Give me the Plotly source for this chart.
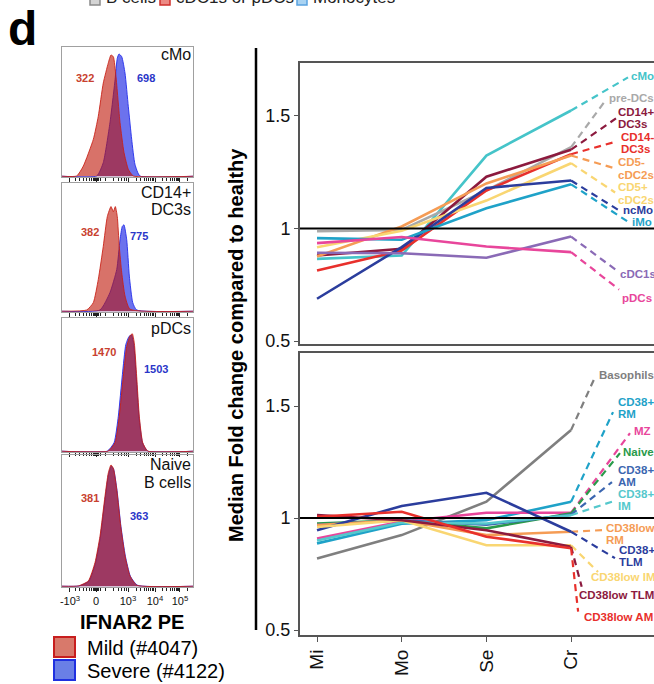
import plotly.graph_objects as go

W, H = 654, 684
FONT = "Liberation Sans, Arial, sans-serif"

# ---------------- data: fold change panels ----------------
categories = ["Mi", "Mo", "Se", "Cr"]
cat_pos = [1, 2, 3, 4]

# top panel (myeloid)
my_names = ["cMo", "pre-DCs", "CD14+<br>DC3s", "CD14-<br>DC3s", "CD5-<br>cDC2s",
            "CD5+<br>cDC2s", "ncMo", "iMo", "cDC1s", "pDCs"]
my_colors = ["#45c4c9", "#a9a9a9", "#8c1a3e", "#e8302c", "#f59c55",
             "#f9d672", "#2b3d9d", "#1fa2c8", "#8a6ab6", "#e8469b"]
cMo_v = [0.865, 0.880, 1.324, 1.524]
preDC_v = [0.988, 0.994, 1.169, 1.361]
cd14p_v = [0.880, 0.910, 1.230, 1.350]
cd14m_v = [0.813, 0.902, 1.169, 1.330]
cd5m_v = [0.876, 1.009, 1.200, 1.324]
cd5p_v = [0.917, 0.990, 1.124, 1.290]
ncMo_v = [0.688, 0.917, 1.180, 1.213]
iMo_v = [0.957, 0.950, 1.090, 1.196]
cDC1_v = [0.892, 0.890, 0.870, 0.964]
pDC_v = [0.935, 0.962, 0.920, 0.895]
my_values = [cMo_v, preDC_v, cd14p_v, cd14m_v, cd5m_v, cd5p_v, ncMo_v, iMo_v, cDC1_v, pDC_v]
my_end_x = [4.672, 4.42, 4.53, 4.54, 4.52, 4.52, 4.58, 4.684, 4.54, 4.566]
my_end_y = [1.671, 1.576, 1.489, 1.387, 1.267, 1.160, 1.077, 1.027, 0.813, 0.729]
my_lab_x = [4.695, 4.44, 4.542, 4.577, 4.542, 4.542, 4.60, 4.707, 4.565, 4.59]
my_lab_y = [1.676, 1.578, 1.491, 1.380, 1.267, 1.156, 1.080, 1.029, 0.800, 0.693]

# bottom panel (B cells + basophils)
b_names = ["Basophils", "CD38+<br>RM", "MZ", "Naive", "CD38+<br>AM", "CD38+<br>IM",
           "CD38low<br>RM", "CD38+<br>TLM", "CD38low IM", "CD38low TLM", "CD38low AM"]
b_colors = ["#7f7f7f", "#1fa2c8", "#e8469b", "#2a9a4a", "#3b66b0", "#55c8cc",
            "#f59c55", "#2b3d9d", "#f9d672", "#8c1a3e", "#e8302c"]
baso_v = [0.820, 0.924, 1.073, 1.393]
rm38p_v = [0.887, 0.975, 0.991, 1.073]
mz_v = [0.909, 0.984, 1.024, 1.024]
naive_v = [0.976, 0.990, 0.954, 1.021]
am38p_v = [0.970, 0.990, 0.970, 1.015]
im38p_v = [0.900, 0.980, 0.976, 1.013]
rm38l_v = [0.969, 0.990, 0.924, 0.939]
tlm38p_v = [0.946, 1.054, 1.113, 0.939]
im38l_v = [0.960, 0.990, 0.879, 0.879]
tlm38l_v = [1.013, 0.990, 0.946, 0.872]
am38l_v = [1.006, 1.028, 0.917, 0.865]
b_values = [baso_v, rm38p_v, mz_v, naive_v, am38p_v, im38p_v,
            rm38l_v, tlm38p_v, im38l_v, tlm38l_v, am38l_v]
b_end_x = [4.282, 4.495, 4.695, 4.577, 4.483, 4.506, 4.365, 4.518, 4.318, 4.125, 4.083]
b_end_y = [1.629, 1.473, 1.379, 1.290, 1.161, 1.076, 0.946, 0.821, 0.759, 0.693, 0.582]
b_lab_x = [4.318, 4.542, 4.731, 4.60, 4.542, 4.542, 4.40, 4.554, 4.223, 4.08, 4.14]
b_lab_y = [1.638, 1.491, 1.388, 1.295, 1.1875, 1.080, 0.929, 0.830, 0.737, 0.656, 0.558]

y_ticks = [0.5, 1, 1.5]
y_tick_text = ["0.5", "1", "1.5"]

# ---------------- data: histograms (display units, relative height) ----------------
hist_titles = ["cMo", "CD14+<br>DC3s", "pDCs", "Naive<br>B cells"]
mild_mfi = ["322", "382", "1470", "381"]
severe_mfi = ["698", "775", "1503", "363"]

h1_mild_x = [0.0, 0.112, 0.163, 0.239, 0.277, 0.315, 0.353, 0.374, 0.392, 0.412, 0.443, 0.473, 0.506, 0.544, 1.0]
h1_mild_y = [0.0, 0.002, 0.079, 0.285, 0.464, 0.721, 0.875, 0.938, 0.925, 0.772, 0.415, 0.185, 0.054, 0.002, 0.0]
h1_sev_x = [0.0, 0.265, 0.315, 0.366, 0.405, 0.422, 0.435, 0.456, 0.481, 0.506, 0.532, 0.557, 0.595, 1.0]
h1_sev_y = [0.0, 0.002, 0.105, 0.413, 0.746, 0.913, 0.946, 0.925, 0.798, 0.541, 0.285, 0.092, 0.002, 0.0]

h2_mild_x = [0.0, 0.189, 0.239, 0.277, 0.315, 0.346, 0.374, 0.392, 0.407, 0.422, 0.437, 0.456, 0.481, 0.519, 1.0]
h2_mild_y = [0.0, 0.010, 0.067, 0.248, 0.506, 0.739, 0.816, 0.777, 0.816, 0.739, 0.506, 0.300, 0.119, 0.016, 0.0]
h2_sev_x = [0.0, 0.290, 0.366, 0.418, 0.443, 0.460, 0.473, 0.494, 0.514, 0.540, 0.570, 1.0]
h2_sev_y = [0.0, 0.010, 0.145, 0.326, 0.558, 0.661, 0.674, 0.558, 0.274, 0.067, 0.010, 0.0]

h3_mild_x = [0.0, 0.351, 0.405, 0.437, 0.468, 0.494, 0.519, 0.537, 0.552, 0.570, 0.590, 0.616, 0.656, 1.0]
h3_mild_y = [0.0, 0.0, 0.065, 0.263, 0.562, 0.786, 0.866, 0.881, 0.811, 0.562, 0.263, 0.065, 0.0, 0.0]
h3_sev_x = [0.0, 0.345, 0.398, 0.430, 0.461, 0.487, 0.512, 0.531, 0.548, 0.567, 0.588, 0.615, 0.655, 1.0]
h3_sev_y = [0.0, 0.0, 0.065, 0.263, 0.575, 0.800, 0.862, 0.872, 0.800, 0.550, 0.255, 0.062, 0.0, 0.0]

h4_mild_x = [0.0, 0.124, 0.201, 0.252, 0.290, 0.328, 0.353, 0.374, 0.392, 0.418, 0.448, 0.481, 0.519, 0.570, 1.0]
h4_mild_y = [0.0, 0.002, 0.040, 0.180, 0.381, 0.684, 0.861, 0.924, 0.899, 0.735, 0.457, 0.230, 0.078, 0.008, 0.0]
h4_sev_x = [0.0, 0.130, 0.205, 0.255, 0.293, 0.330, 0.355, 0.376, 0.394, 0.420, 0.450, 0.484, 0.522, 0.575, 1.0]
h4_sev_y = [0.0, 0.002, 0.038, 0.175, 0.375, 0.675, 0.852, 0.915, 0.892, 0.730, 0.455, 0.228, 0.076, 0.008, 0.0]

hist_mild = [(h1_mild_x, h1_mild_y), (h2_mild_x, h2_mild_y), (h3_mild_x, h3_mild_y), (h4_mild_x, h4_mild_y)]
hist_sev = [(h1_sev_x, h1_sev_y), (h2_sev_x, h2_sev_y), (h3_sev_x, h3_sev_y), (h4_sev_x, h4_sev_y)]

hist_tick_pos = [0.061, 0.26, 0.504, 0.71, 0.90]
hist_tick_text = ["-10<sup>3</sup>", "0", "10<sup>3</sup>", "10<sup>4</sup>", "10<sup>5</sup>"]
hist_minor_pos = [0.10, 0.135, 0.165, 0.19, 0.21, 0.228, 0.24, 0.25, 0.255, 0.265, 0.27, 0.28, 0.292,
                  0.33, 0.39, 0.43, 0.455, 0.475, 0.49,
                  0.566, 0.602, 0.628, 0.648, 0.664, 0.678, 0.690, 0.700,
                  0.767, 0.801, 0.825, 0.843, 0.858, 0.871, 0.882, 0.891, 0.96]

# ---------------- layout geometry (pixels) ----------------
def px_x(p):
    return p / W

def px_y(p):
    return 1 - p / H

hist_x_dom = [px_x(62), px_x(193)]
hist_y_px = [(47, 177), (183, 312), (318, 452), (455, 587)]
right_x_dom = [px_x(300), 1.0]
top_y_dom = [px_y(344), px_y(63)]
bot_y_dom = [px_y(635), px_y(353)]

fig = go.Figure()
layout_axes = {}

MILD_FILL = "rgba(190,20,5,0.60)"
MILD_LINE = "rgba(200,30,20,0.85)"
SEV_FILL = "rgba(10,20,225,0.60)"
SEV_LINE = "rgba(35,45,235,0.9)"

for i in range(4):
    n = i + 1
    sfx = "" if n == 1 else str(n)
    sx, sy = hist_sev[i]
    mx, my = hist_mild[i]
    fig.add_trace(go.Scatter(x=sx, y=sy, xaxis="x" + sfx, yaxis="y" + sfx, mode="lines",
                             line=dict(color=SEV_LINE, width=1, shape="spline", smoothing=0.5),
                             fill="tozeroy", fillcolor=SEV_FILL, hoverinfo="skip", showlegend=False))
    fig.add_trace(go.Scatter(x=mx, y=my, xaxis="x" + sfx, yaxis="y" + sfx, mode="lines",
                             line=dict(color=MILD_LINE, width=1, shape="spline", smoothing=0.5),
                             fill="tozeroy", fillcolor=MILD_FILL, hoverinfo="skip", showlegend=False))
    top, bot = hist_y_px[i]
    layout_axes["xaxis" + sfx] = dict(
        domain=hist_x_dom, range=[0, 1], anchor="y" + sfx, showline=True, mirror=True,
        linecolor="#a0a0a0", linewidth=1, showgrid=False, zeroline=False,
        tickvals=hist_tick_pos, ticktext=hist_tick_text, ticks="outside", ticklen=4,
        tickcolor="#222", tickwidth=1, showticklabels=(n == 4),
        tickfont=dict(family=FONT, size=11, color="#111"),
        minor=dict(tickvals=hist_minor_pos, ticks="outside", ticklen=2.5, tickcolor="#222", tickwidth=1),
        fixedrange=True)
    layout_axes["yaxis" + sfx] = dict(
        domain=[px_y(bot), px_y(top)], range=[-0.006, 1.0], anchor="x" + sfx, showline=True,
        mirror=True, linecolor="#a0a0a0", linewidth=1, showgrid=False, zeroline=False,
        showticklabels=False, ticks="", fixedrange=True)

# right panels
def add_panel(values, colors, end_x, end_y, xa, ya):
    for vals, col in zip(values, colors):
        fig.add_trace(go.Scatter(x=cat_pos, y=vals, xaxis=xa, yaxis=ya, mode="lines",
                                 line=dict(color=col, width=2.6), hoverinfo="skip", showlegend=False))
    for vals, col, ex, ey in zip(values, colors, end_x, end_y):
        fig.add_trace(go.Scatter(x=[cat_pos[-1], ex], y=[vals[-1], ey], xaxis=xa, yaxis=ya, mode="lines",
                                 line=dict(color=col, width=2.2, dash="7px,5px"),
                                 hoverinfo="skip", showlegend=False))

add_panel(my_values, my_colors, my_end_x, my_end_y, "x5", "y5")
add_panel(b_values, b_colors, b_end_x, b_end_y, "x6", "y6")

x_range = [0.799, 4.979]
FRAME = "#555555"
layout_axes["xaxis5"] = dict(domain=right_x_dom, range=x_range, anchor="y5", showline=True, mirror=True,
                             linecolor=FRAME, linewidth=2, showgrid=False, zeroline=False,
                             showticklabels=False, ticks="", fixedrange=True)
layout_axes["yaxis5"] = dict(domain=top_y_dom, range=[0.487, 1.735], anchor="x5", showline=True,
                             linecolor=FRAME, linewidth=2, showgrid=False, zeroline=False,
                             tickvals=y_ticks, ticktext=y_tick_text, ticks="outside", ticklen=4,
                             tickcolor=FRAME, tickfont=dict(family=FONT, size=18, color="#111"),
                             fixedrange=True)
layout_axes["xaxis6"] = dict(domain=right_x_dom, range=x_range, anchor="y6", showline=True, mirror=True,
                             linecolor=FRAME, linewidth=2, showgrid=False, zeroline=False,
                             tickvals=cat_pos, ticktext=categories, ticks="outside", ticklen=5,
                             tickcolor=FRAME, tickangle=-90,
                             tickfont=dict(family=FONT, size=19, color="#111"), fixedrange=True)
layout_axes["yaxis6"] = dict(domain=bot_y_dom, range=[0.478, 1.737], anchor="x6", showline=True,
                             linecolor=FRAME, linewidth=2, showgrid=False, zeroline=False,
                             tickvals=y_ticks, ticktext=y_tick_text, ticks="outside", ticklen=4,
                             tickcolor=FRAME, tickfont=dict(family=FONT, size=18, color="#111"),
                             fixedrange=True)

shapes = []
for xa, ya in (("x5", "y5"), ("x6", "y6")):
    shapes.append(dict(type="line", xref=xa + " domain", yref=ya, x0=0, x1=1, y0=1, y1=1,
                       line=dict(color="black", width=2), layer="above"))
shapes.append(dict(type="line", xref="paper", yref="paper", x0=px_x(256), x1=px_x(256),
                   y0=px_y(48), y1=px_y(630), line=dict(color="black", width=2.5)))

annotations = []


def note(x, y, text, size, color, xanchor="center", yanchor="middle", **kw):
    annotations.append(dict(xref="paper", yref="paper", x=px_x(x), y=px_y(y), text=text,
                            showarrow=False, xanchor=xanchor, yanchor=yanchor,
                            font=dict(family=FONT, size=size, color=color), **kw))


# right-panel labels: each line placed separately for tight line spacing
LINE_SP = 12.5
for names, colors, lx, ly, xa, ya in ((my_names, my_colors, my_lab_x, my_lab_y, "x5", "y5"),
                                      (b_names, b_colors, b_lab_x, b_lab_y, "x6", "y6")):
    for nm, col, x, y in zip(names, colors, lx, ly):
        parts = nm.split("<br>")
        for k, part in enumerate(parts):
            off = ((len(parts) - 1) / 2 - k) * LINE_SP
            annotations.append(dict(xref=xa, yref=ya, x=x, y=y, yshift=off, text="<b>" + part + "</b>",
                                    showarrow=False, xanchor="left", yanchor="middle", align="left",
                                    borderpad=0, font=dict(family=FONT, size=11.5, color=col)))

# y-axis title
note(236, 345, "<b>Median Fold change compared to healthy</b>", 20, "black", textangle=-90)

# histogram panel titles and MFIs
title_y = [55, 201, 328, 473.5]
mild_pos = [(85, 78), (90, 232), (103.5, 352), (90, 498)]
sev_pos = [(146, 78), (139, 236), (156, 369), (139, 516)]
for i in range(4):
    parts = hist_titles[i].split("<br>")
    for k, part in enumerate(parts):
        off = ((len(parts) - 1) / 2 - k) * 17.5
        note(192, title_y[i] - off, part, 16, "#111", xanchor="right", borderpad=0)
    note(mild_pos[i][0], mild_pos[i][1], "<b>" + mild_mfi[i] + "</b>", 11, "#c8412f")
    note(sev_pos[i][0], sev_pos[i][1], "<b>" + severe_mfi[i] + "</b>", 11, "#2a36c8")

# x title of histograms
note(132, 622, "<b>IFNAR2 PE</b>", 20, "black")

# bottom legend
legend_items = [("Mild (#4047)", "#d8796b", "#c81e1e", 637), ("Severe (#4122)", "#6a7fe6", "#1f30e0", 660)]
for txt, fill, edge, top in legend_items:
    shapes.append(dict(type="rect", xref="paper", yref="paper", x0=px_x(54), x1=px_x(75),
                       y0=px_y(top + 20), y1=px_y(top), fillcolor=fill, line=dict(color=edge, width=2)))
    note(85, top + 10.5, txt, 20, "black", xanchor="left")

# panel letter
note(6, 29, "<b>d</b>", 48, "black", xanchor="left")

# cropped top legend
top_legend = [("B cells", "#d4d4d4", "#8a8a8a", 90), ("cDC1s or pDCs", "#ec8a84", "#d0302c", 160),
              ("Monocytes", "#a9d3f2", "#5aa2e0", 297)]
for txt, fill, edge, x0 in top_legend:
    shapes.append(dict(type="rect", xref="paper", yref="paper", x0=px_x(x0), x1=px_x(x0 + 10),
                       y0=px_y(5), y1=px_y(-8), fillcolor=fill, line=dict(color=edge, width=1.5)))
    note(x0 + 14, -2.5, txt, 17, "#222", xanchor="left")

fig.update_layout(
    width=W, height=H, margin=dict(l=0, r=0, t=0, b=0, autoexpand=False),
    paper_bgcolor="white", plot_bgcolor="rgba(0,0,0,0)",
    font=dict(family=FONT, color="black"),
    showlegend=False, shapes=shapes, annotations=annotations,
    **layout_axes)

fig.write_html("out.html", config={"displayModeBar": False, "staticPlot": True},
               post_script="document.body.style.margin='0';document.body.style.padding='0';"
                           "document.documentElement.style.overflow='hidden';")
